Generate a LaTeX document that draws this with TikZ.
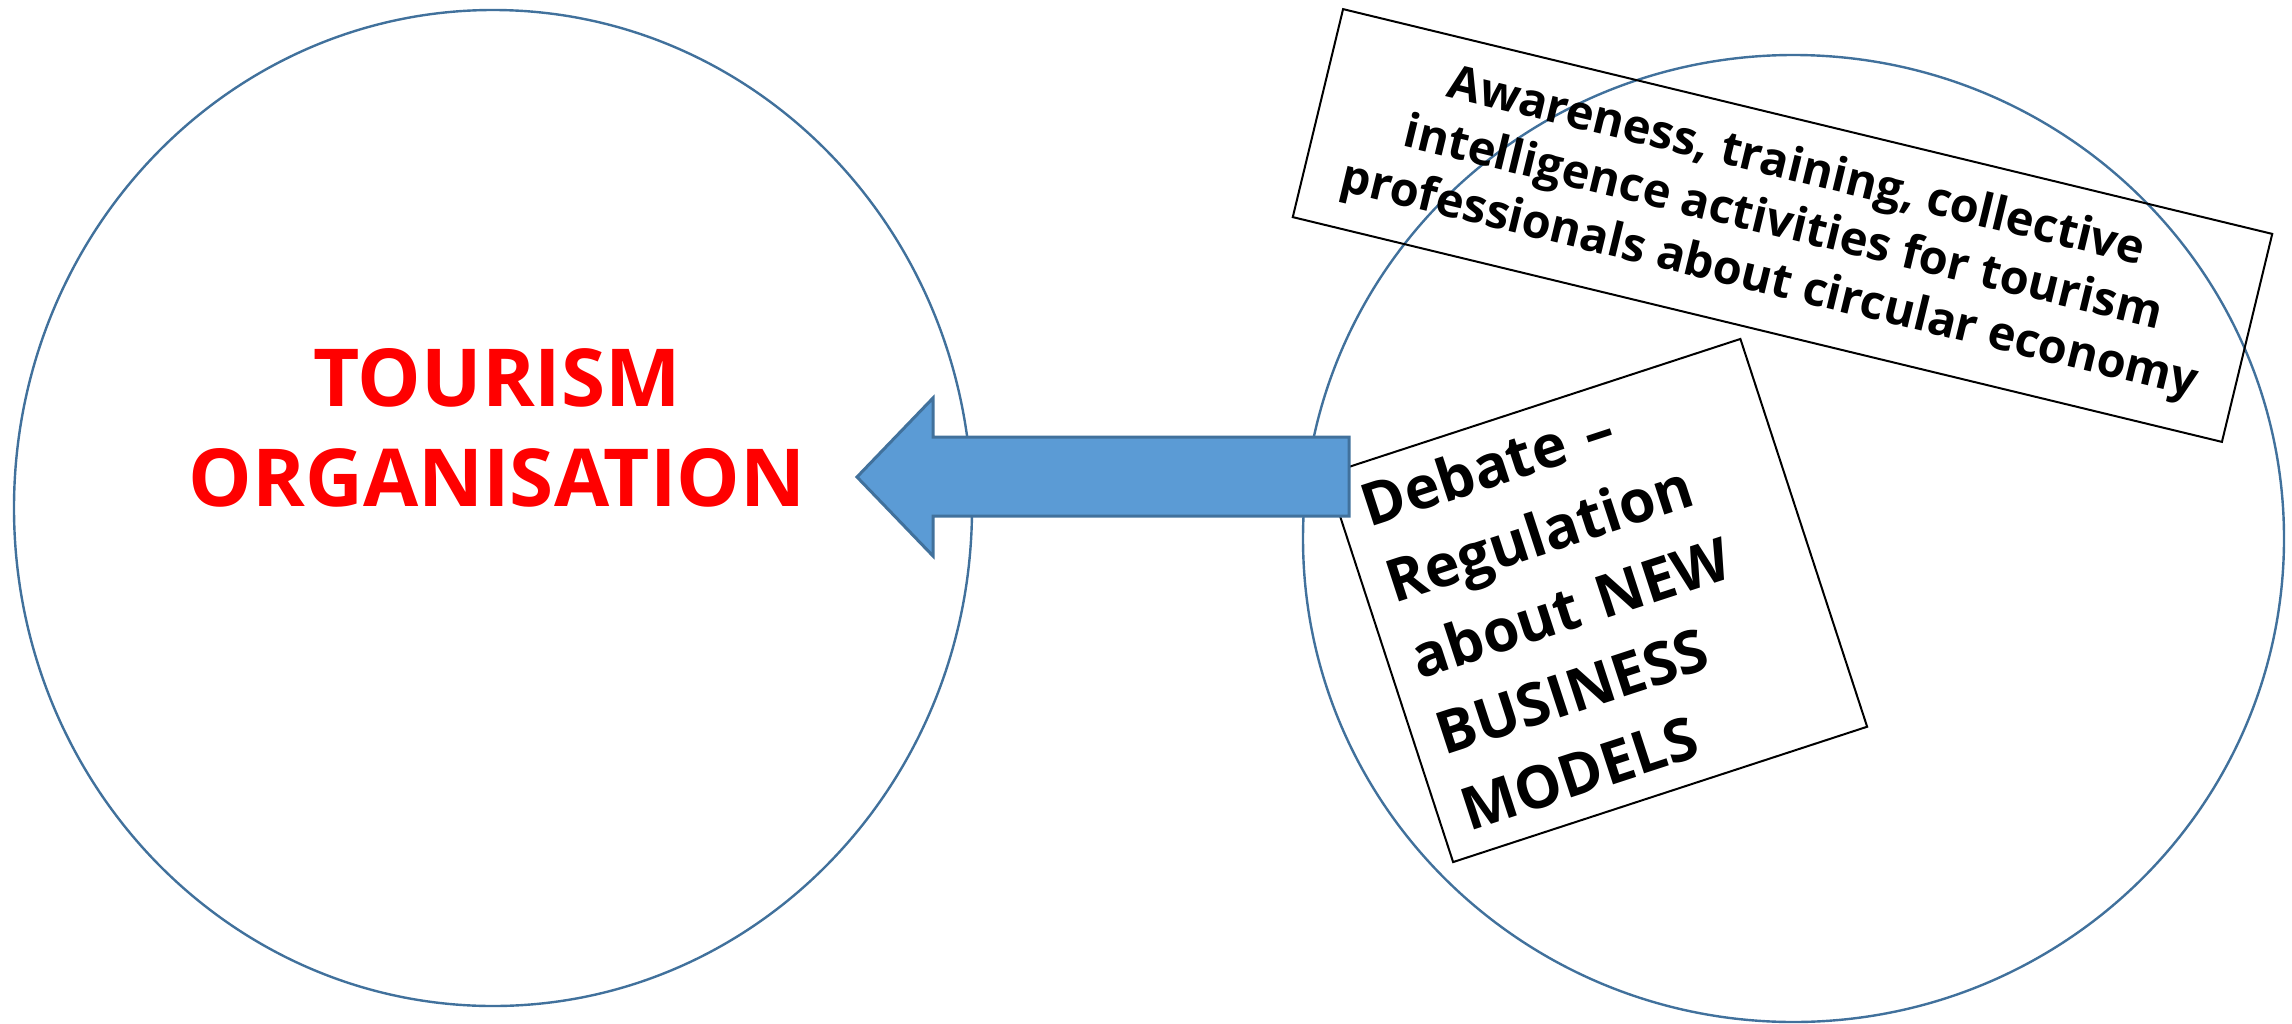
\documentclass[tikz,border=0pt]{standalone}
\usepackage{fontspec}
\setmainfont{Open Sans}
\usetikzlibrary{shapes.geometric}
\definecolor{circ}{RGB}{65,113,156}
\definecolor{arrfill}{RGB}{91,155,213}
\definecolor{arrline}{RGB}{65,113,156}
\definecolor{orgred}{RGB}{255,0,0}
\tikzset{
  bigcirc/.style={draw=circ, line width=2.4pt, ellipse, inner sep=0pt},
  tbox/.style={draw=black, line width=2pt, inner sep=0pt},
  blockarrow/.style={fill=arrfill, draw=arrline, line width=3pt, line join=miter}
}
\begin{document}
\begin{tikzpicture}[x=1pt,y=-1pt]
\useasboundingbox (0,0) rectangle (2292,1023);
% circles
\node[bigcirc, minimum width=958pt, minimum height=996pt] (left) at (493,508) {};
\node[bigcirc, minimum width=981pt, minimum height=967pt] (right) at (1793.5,538.5) {};
% title
\node[text=orgred, align=center, font=\fontsize{80}{100}\selectfont\bfseries] (title) at (497,428) {TOURISM\\ORGANISATION};
% top box
\node[tbox, rotate=-13.6, minimum width=956pt, minimum height=214pt, align=center,
      font=\fontsize{47}{58}\selectfont\bfseries] (aware) at (1782.5,225.5)
  {Awareness, training, collective\\intelligence activities for tourism\\professionals about circular economy};
% debate box
\node[tbox, rotate=18.1, minimum width=435.6pt, minimum height=408pt] (debate) at (1596.75,600.5) {};
\node[rotate=18.1, text width=396pt, inner sep=0pt, align=left,
      font=\fontsize{59}{80}\selectfont\bfseries] (debatetext) at (1601,597)
  {Debate –\\Regulation\\about NEW\\BUSINESS\\MODELS};
% arrow
\coordinate (tip) at (857,477);
\coordinate (tail) at (1349,477);
\draw[blockarrow] (tip) -- (933,398) -- (933,437) -- (tail |- 0,437) -- (tail |- 0,516) -- (933,516) -- (933,556) -- cycle;
\end{tikzpicture}
\end{document}
